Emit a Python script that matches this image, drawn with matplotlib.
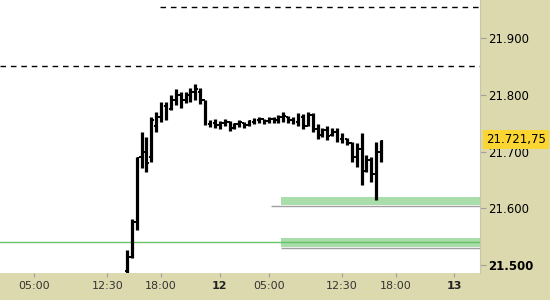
import numpy as np
import matplotlib
matplotlib.use("Agg")
import matplotlib.pyplot as plt
import matplotlib.transforms as mtransforms

# ---- data ----
# bar times in hours since day-11 00:00 (30-minute bars)
bar_hours = [14.5 + 0.5 * i for i in range(53)]
highs = [21.527, 21.581, 21.690, 21.734, 21.725, 21.761, 21.769, 21.787, 21.788, 21.800,
         21.810, 21.805, 21.805, 21.812, 21.819, 21.812, 21.791, 21.755, 21.757, 21.754,
         21.758, 21.753, 21.750, 21.755, 21.752, 21.756, 21.759, 21.760, 21.758, 21.761,
         21.760, 21.765, 21.770, 21.762, 21.760, 21.768, 21.766, 21.770, 21.768, 21.748,
         21.742, 21.745, 21.742, 21.741, 21.732, 21.724, 21.717, 21.715, 21.732, 21.694,
         21.690, 21.717, 21.720]
lows = [21.484, 21.512, 21.561, 21.671, 21.664, 21.681, 21.734, 21.752, 21.755, 21.773,
        21.782, 21.777, 21.785, 21.787, 21.791, 21.784, 21.747, 21.743, 21.742, 21.740,
        21.745, 21.737, 21.740, 21.744, 21.741, 21.745, 21.748, 21.750, 21.749, 21.750,
        21.751, 21.750, 21.752, 21.750, 21.748, 21.745, 21.740, 21.745, 21.735, 21.722,
        21.725, 21.720, 21.728, 21.717, 21.715, 21.711, 21.681, 21.672, 21.641, 21.664,
        21.646, 21.614, 21.681]
opens = [21.490, 21.515, 21.575, 21.690, 21.700, 21.690, 21.745, 21.760, 21.780, 21.775,
         21.790, 21.800, 21.790, 21.800, 21.805, 21.805, 21.790, 21.748, 21.750, 21.746,
         21.750, 21.752, 21.742, 21.748, 21.750, 21.746, 21.752, 21.755, 21.757, 21.753,
         21.758, 21.755, 21.760, 21.760, 21.755, 21.752, 21.760, 21.745, 21.765, 21.740,
         21.730, 21.738, 21.730, 21.735, 21.722, 21.722, 21.715, 21.690, 21.705, 21.665,
         21.685, 21.660, 21.700]
closes = [21.518, 21.578, 21.688, 21.700, 21.680, 21.755, 21.760, 21.780, 21.770, 21.790,
          21.800, 21.785, 21.800, 21.805, 21.810, 21.790, 21.750, 21.752, 21.748, 21.750,
          21.754, 21.742, 21.748, 21.752, 21.746, 21.753, 21.756, 21.757, 21.753, 21.758,
          21.755, 21.760, 21.762, 21.755, 21.752, 21.760, 21.745, 21.765, 21.740, 21.730,
          21.738, 21.728, 21.735, 21.722, 21.725, 21.715, 21.690, 21.705, 21.665, 21.685,
          21.660, 21.700, 21.718]

last_price = 21721.75 / 1000
last_label = "21.721,75"

dashed_levels = [21.955, 21.851]
dashed_starts = [17.9, None]
green_line = 21.541
bands = [(21.605, 21.620), (21.531, 21.547)]
band_start = 30.3
gray_levels = [21.604, 21.530]
gray_starts = [29.2, 30.3]

y_ticks = [21.500, 21.600, 21.700, 21.800, 21.900]
y_tick_labels = ["21.500", "21.600", "21.700", "21.800", "21.900"]
x_ticks = [5, 12.5, 18, 24, 29, 36.5, 42, 48]
x_tick_labels = ["05:00", "12:30", "18:00", "12", "05:00", "12:30", "18:00", "13"]
bold_x = {"12", "13"}

# ---- figure ----
bg = "#dcd9ae"
fig = plt.figure(figsize=(5.5, 3.0), dpi=100, facecolor=bg)
ax = fig.add_axes([0, 27 / 300, 480 / 550, 273 / 300])
ax.set_facecolor("white")
x0, x1 = 1.514, 50.62
ax.set_xlim(x0, x1)
ax.set_ylim(21.486, 21.967)

# levels
for lvl, st in zip(dashed_levels, dashed_starts):
    ax.hlines(lvl, st if st is not None else x0, x1, colors="black",
              linestyles=(0, (4, 3.5)), lw=1.0, zorder=2)
for (lo, hi) in bands:
    ax.fill_between([band_start, x1], lo, hi, color="#a9dda9", lw=0, zorder=1)
for lvl, st in zip(gray_levels, gray_starts):
    ax.hlines(lvl, st, x1, colors="#a0a0a0", lw=1.0, zorder=2)
ax.axhline(green_line, color="#66c266", lw=1.0, zorder=2)

# OHLC bars
t = np.array(bar_hours)
ax.vlines(t, lows, highs, colors="black", lw=2.3, zorder=3)
ax.hlines(opens, t - 0.24, t, colors="black", lw=1.4, zorder=3)
ax.hlines(closes, t, t + 0.24, colors="black", lw=1.4, zorder=3)

# axes styling
for s in ["top", "left", "bottom"]:
    ax.spines[s].set_visible(False)
ax.spines["right"].set_color("#c8c6a8")
ax.spines["right"].set_linewidth(0.8)

ax.yaxis.tick_right()
ax.set_yticks(y_ticks)
ax.set_yticklabels(y_tick_labels)
ax.tick_params(axis="y", length=4, color="#a0a0a0", pad=2, labelsize=8.5, labelcolor="black")
for lab in ax.get_yticklabels():
    if lab.get_text() == "21.500":
        lab.set_fontweight("bold")

ax.set_xticks(x_ticks)
ax.set_xticklabels(x_tick_labels)
ax.tick_params(axis="x", length=3, color="#a0a0a0", pad=3, labelsize=8, labelcolor="#333333")
for lab in ax.get_xticklabels():
    if lab.get_text() in bold_x:
        lab.set_fontweight("bold")
        lab.set_color("#222222")

# current price label
trans = mtransforms.blended_transform_factory(ax.transAxes, ax.transData)
ax.text(1.012, last_price, last_label, transform=trans, va="center", ha="left",
        fontsize=8.5, color="black", zorder=10, clip_on=False,
        bbox=dict(boxstyle="square,pad=0.25", fc="#fbd532", ec="none"))

fig.savefig("out.png", dpi=100, facecolor=bg)
